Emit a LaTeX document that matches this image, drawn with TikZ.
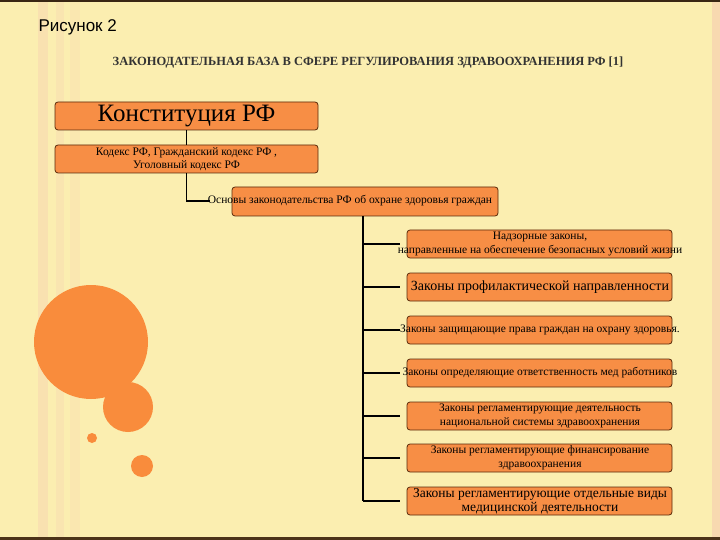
\documentclass[tikz,border=0pt]{standalone}
\usepackage{fontspec}
\setmainfont{Liberation Serif}
\newfontfamily\sansf{Liberation Sans}
\definecolor{bg}{HTML}{FBEEB0}
\definecolor{stripe}{HTML}{F8D9B0}
\definecolor{orng}{HTML}{F78E45}
\definecolor{circ}{HTML}{F98C3C}
\definecolor{edge}{HTML}{5A2A0A}
\tikzset{
 box/.style={draw=edge,fill=orng,rounded corners=3pt,line width=0.8pt},
 lbl/.style={align=center,font=\fontsize{11.5}{13}\selectfont,text=black},
 conn/.style={line width=1.6pt,black}
}
\begin{document}
\begin{tikzpicture}[x=1pt,y=-1pt]
\useasboundingbox (0,0) rectangle (720,540);
\fill[bg] (0,0) rectangle (720,540);
\fill[stripe,opacity=0.6] (38,0) rectangle (48,540);
\fill[stripe,opacity=0.4] (56,0) rectangle (64,540);
\fill[stripe,opacity=0.3] (70,0) rectangle (80,540);
\fill[stripe] (712,0) rectangle (720,540);
\fill[black!70!brown] (0,0) rectangle (720,2);
\fill[black!60!brown] (0,537) rectangle (720,540);
% circles
\fill[circ] (91,342) circle (57);
\fill[circ] (128,407) circle (25);
\fill[circ] (142,466) circle (11);
\fill[circ] (92,438) circle (5);
% titles
\node[anchor=west,font=\sansf\fontsize{17}{19}\selectfont] (t1) at (35,27) {Рисунок 2};
\node[font=\bfseries\fontsize{12.5}{14}\selectfont,text=black!80] (t2) at (368,62) {ЗАКОНОДАТЕЛЬНАЯ БАЗА В СФЕРЕ РЕГУЛИРОВАНИЯ ЗДРАВООХРАНЕНИЯ РФ [1]};
% top boxes
\draw[box] (55,102) rectangle (318,130); \node[font=\fontsize{25}{27}\selectfont] (k) at (186.5,116) {Конституция РФ};
\draw[box] (55,145) rectangle (318,173); \node[lbl] (kd) at (186.5,159) {Кодекс РФ, Гражданский кодекс РФ ,\\Уголовный кодекс РФ};
\draw[box] (232,187) rectangle (498,216); \node[lbl] (os) at (350,201) {Основы законодательства РФ об охране здоровья граждан};
\draw[conn] (186.5,130) -- (186.5,145);
\draw[conn] (186.5,173) -- (186.5,201) -- (210,201);
% right boxes
\foreach \y/\t/\s [count=\i] in {
 230/{Надзорные законы,\\направленные на обеспечение безопасных условий жизни}/11.5,
 273/{Законы профилактической направленности}/14,
 316/{Законы защищающие права граждан на охрану здоровья.}/11.5,
 359/{Законы определяющие ответственность мед работников}/11.5,
 402/{Законы регламентирующие деятельность\\национальной системы здравоохранения}/11.5,
 444/{Законы регламентирующие финансирование\\здравоохранения}/11.5,
 487/{Законы регламентирующие отдельные виды\\медицинской деятельности}/13.5}{
 \draw[box] (407,\y) rectangle (672,\y+28);
 \draw[conn] (363,\y+14) -- (400,\y+14);
 \node[align=center,font=\fontsize{\s}{14}\selectfont] (r\i) at (540,\y+14) {\t};
}
\draw[conn] (363,216) -- (363,501);
\end{tikzpicture}
\end{document}
